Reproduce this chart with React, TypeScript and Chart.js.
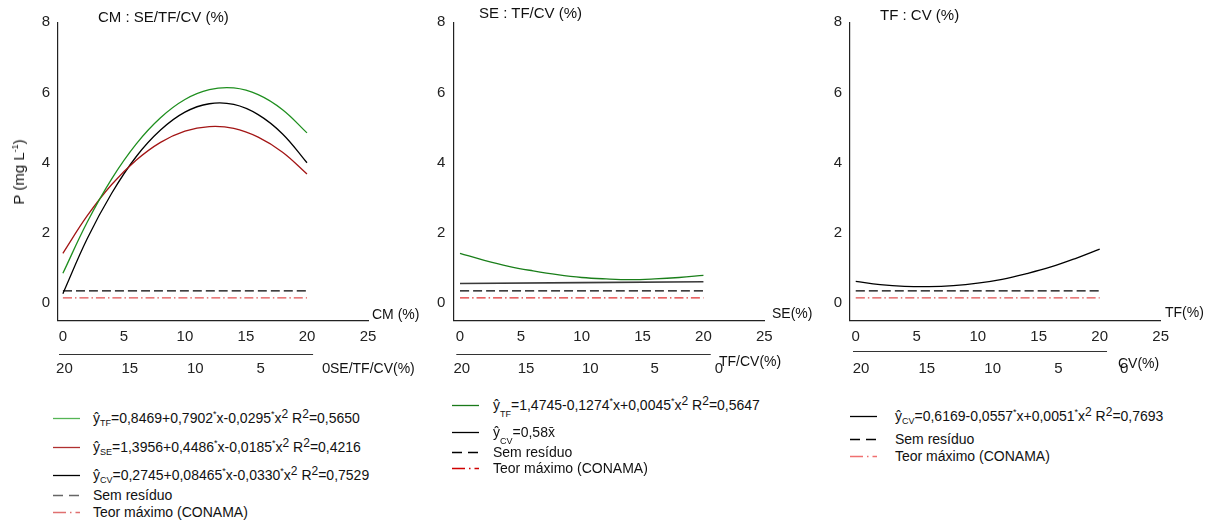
import React, { useEffect, useRef } from "react";
import { Chart, registerables } from "chart.js";
Chart.register(...registerables);

// ---------- DATA ----------
const xValues = [0, 2, 4, 6, 8, 10, 12, 14, 16, 18, 20];
const cmTF = [0.85, 2.31, 3.54, 4.53, 5.28, 5.8, 6.08, 6.13, 5.94, 5.51, 4.85];
const cmSE = [1.42, 2.49, 3.38, 4.07, 4.58, 4.9, 5.03, 4.98, 4.73, 4.3, 3.68];
const cmCV = [0.27, 1.84, 3.13, 4.17, 4.93, 5.44, 5.68, 5.66, 5.37, 4.82, 4.0];
const seTF = [1.42, 1.22, 1.05, 0.92, 0.81, 0.73, 0.69, 0.67, 0.69, 0.73, 0.79];
const seCVx = [0, 20];
const seCV = [0.56, 0.61];
const tfCV = [0.62, 0.53, 0.48, 0.47, 0.5, 0.57, 0.68, 0.84, 1.03, 1.27, 1.54];
const refX = [0, 20];
const semResiduo = [0.35, 0.35];
const conama = [0.15, 0.15];
const xTicks = [0, 5, 10, 15, 20, 25];
const yTicks = [0, 2, 4, 6, 8];
const secTicks = [20, 15, 10, 5, 0];

const FONT = "'Liberation Sans', Arial, Helvetica, sans-serif";
const DASH = [9, 4];
const DASHDOT = [9, 3, 1.5, 3];

type Series = { xs: number[]; ys: number[]; color: string; width: number; dash?: number[] };
type PanelCfg = {
  left: number;
  areaLeft: number;
  areaRight: number;
  xMin: number;
  x2Min: number;
  x2Max: number;
  secStart: number;
  secEnd: number;
  secDy: number;
  series: Series[];
};

const toPts = (xs: number[], ys: number[]) => xs.map((x, i) => ({ x, y: ys[i] }));

const secLinePlugin = {
  id: "secLine",
  afterDraw(chart: any, _args: any, opts: any) {
    const ctx = chart.ctx;
    const xs = chart.scales.x;
    const x2 = chart.scales.x2;
    ctx.save();
    ctx.strokeStyle = "#333";
    ctx.lineWidth = 1.1;
    ctx.beginPath();
    const y = Math.round(x2.top + opts.dy) + 0.5;
    ctx.moveTo(xs.left + opts.start, y);
    ctx.lineTo(xs.getPixelForValue(opts.end), y);
    ctx.stroke();
    ctx.restore();
  },
};

const CANVAS_W = 400;
const CANVAS_H = 390;
const AREA_TOP = 22.3;
const AREA_BOTTOM = 320.7;
const X_H = 28;
const X2_H = 30;
const Y_W = 50;

function Panel({ cfg }: { cfg: PanelCfg }) {
  const ref = useRef<HTMLCanvasElement | null>(null);
  useEffect(() => {
    if (!ref.current) return;
    const tickFont = { family: FONT, size: 15 };
    const chart = new Chart(ref.current, {
      type: "scatter",
      data: {
        datasets: cfg.series.map((s) => ({
          data: toPts(s.xs, s.ys),
          showLine: true,
          borderColor: s.color,
          borderWidth: s.width,
          borderDash: s.dash || [],
          pointRadius: 0,
          fill: false,
          tension: 0.4,
          xAxisID: "x",
          yAxisID: "y",
        })),
      },
      options: {
        animation: false,
        responsive: false,
        maintainAspectRatio: false,
        layout: {
          padding: {
            left: cfg.areaLeft - Y_W,
            right: CANVAS_W - cfg.areaRight,
            top: AREA_TOP,
            bottom: CANVAS_H - AREA_BOTTOM - X_H - X2_H,
          },
        },
        plugins: {
          legend: { display: false },
          tooltip: { enabled: false },
          secLine: { start: cfg.secStart, end: cfg.secEnd, dy: cfg.secDy },
        } as any,
        scales: {
          x: {
            type: "linear",
            position: "bottom",
            weight: 1,
            min: cfg.xMin,
            max: 25,
            grid: { display: false, drawTicks: false },
            border: { display: true, color: "#222", width: 1.2 },
            ticks: { padding: 7, font: tickFont, color: "#222", maxRotation: 0, autoSkip: false },
            afterBuildTicks: (s: any) => {
              s.ticks = xTicks.map((v) => ({ value: v }));
            },
            afterFit: (s: any) => {
              s.height = X_H;
            },
          },
          x2: {
            type: "linear",
            position: "bottom",
            weight: 2,
            reverse: true,
            min: cfg.x2Min,
            max: cfg.x2Max,
            grid: { display: false, drawTicks: false },
            border: { display: false },
            ticks: { padding: 11, font: tickFont, color: "#222", maxRotation: 0, autoSkip: false },
            afterBuildTicks: (s: any) => {
              s.ticks = secTicks.map((v) => ({ value: v }));
            },
            afterFit: (s: any) => {
              s.height = X2_H;
            },
          },
          y: {
            type: "linear",
            min: -0.5,
            max: 8,
            grid: { display: false, drawTicks: false },
            border: { display: true, color: "#222", width: 1.2 },
            ticks: { padding: 8, font: tickFont, color: "#222" },
            afterBuildTicks: (s: any) => {
              s.ticks = yTicks.map((v) => ({ value: v }));
            },
            afterFit: (s: any) => {
              s.width = Y_W;
            },
          },
        },
      } as any,
      plugins: [secLinePlugin],
    });
    return () => chart.destroy();
  }, [cfg]);
  return (
    <canvas
      ref={ref}
      width={CANVAS_W}
      height={CANVAS_H}
      style={{ position: "absolute", left: cfg.left, top: 0, width: CANVAS_W, height: CANVAS_H }}
    />
  );
}

const panels: PanelCfg[] = [
  {
    left: 0,
    areaLeft: 58,
    areaRight: 368,
    xMin: -0.4,
    x2Min: -3.2,
    x2Max: 20.49,
    secStart: 1,
    secEnd: 20.5,
    secDy: 5.3,
    series: [
      { xs: xValues, ys: cmTF, color: "#1f8f1f", width: 1.3 },
      { xs: xValues, ys: cmSE, color: "#a31515", width: 1.3 },
      { xs: xValues, ys: cmCV, color: "#000000", width: 1.3 },
      { xs: refX, ys: semResiduo, color: "#000000", width: 1.2, dash: DASH },
      { xs: refX, ys: conama, color: "#e05050", width: 1.2, dash: DASHDOT },
    ],
  },
  {
    left: 400,
    areaLeft: 53.3,
    areaRight: 364.3,
    xMin: -0.55,
    x2Min: -3.54,
    x2Max: 20.66,
    secStart: 3,
    secEnd: 20.6,
    secDy: 5.3,
    series: [
      { xs: xValues, ys: seTF, color: "#1a7f1a", width: 1.3 },
      { xs: seCVx, ys: seCV, color: "#3a3a3a", width: 1.7 },
      { xs: refX, ys: semResiduo, color: "#000000", width: 1.2, dash: DASH },
      { xs: refX, ys: conama, color: "#e03030", width: 1.2, dash: DASHDOT },
    ],
  },
  {
    left: 800,
    areaLeft: 50,
    areaRight: 360.7,
    xMin: -0.47,
    x2Min: -2.77,
    x2Max: 20.84,
    secStart: 3,
    secEnd: 20.6,
    secDy: 2.6,
    series: [
      { xs: xValues, ys: tfCV, color: "#000000", width: 1.3 },
      { xs: refX, ys: semResiduo, color: "#000000", width: 1.2, dash: DASH },
      { xs: refX, ys: conama, color: "#e05050", width: 1.2, dash: DASHDOT },
    ],
  },
];

const txt: React.CSSProperties = {
  position: "absolute",
  whiteSpace: "nowrap",
  fontFamily: FONT,
  color: "#111",
  lineHeight: "18px",
};

function Label({ x, y, size = 14, children }: { x: number; y: number; size?: number; children: React.ReactNode }) {
  return <div style={{ ...txt, left: x, top: y - 9, fontSize: size }}>{children}</div>;
}

function LegendRow({
  x,
  textX,
  y,
  color,
  dash,
  children,
}: {
  x: number;
  textX: number;
  y: number;
  color: string;
  dash?: number[];
  children: React.ReactNode;
}) {
  return (
    <>
      <svg style={{ position: "absolute", left: x, top: y - 5 }} width={28} height={10}>
        <line x1={0} y1={5.5} x2={27} y2={5.5} stroke={color} strokeWidth={1.3} strokeDasharray={dash ? dash.join(",") : undefined} />
      </svg>
      <div style={{ ...txt, left: textX, top: y - 9, fontSize: 14 }}>{children}</div>
    </>
  );
}

const sub = (s: string) => <sub style={{ fontSize: 9, verticalAlign: "-3px", lineHeight: 0 }}>{s}</sub>;
const sub2 = (s: string) => <sub style={{ fontSize: 9, verticalAlign: "-7px", lineHeight: 0 }}>{s}</sub>;
const star = <sup style={{ fontSize: 9, verticalAlign: "6px", lineHeight: 0 }}>*</sup>;
const sq = <sup style={{ fontSize: 12, verticalAlign: "5px", lineHeight: 0 }}>2</sup>;
const LDASHDOT = [13, 4, 1.5, 4];

export default function App() {
  return (
    <div
      style={{
        position: "fixed",
        left: 0,
        top: 0,
        width: 1214,
        height: 525,
        background: "#fff",
        overflow: "hidden",
      }}
    >
      {panels.map((p, i) => (
        <Panel key={i} cfg={p} />
      ))}

      {/* titles */}
      <Label x={98} y={17} size={15}>CM : SE/TF/CV (%)</Label>
      <Label x={479} y={13} size={15}>SE : TF/CV (%)</Label>
      <Label x={880} y={15} size={15}>TF : CV (%)</Label>

      {/* y title */}
      <div
        style={{
          ...txt,
          left: 19,
          top: 172,
          fontSize: 15,
          transform: "translate(-50%, -50%) rotate(-90deg)",
        }}
      >
        P (mg L<sup style={{ fontSize: 9, verticalAlign: "6px", lineHeight: 0 }}>-1</sup>)
      </div>

      {/* x titles */}
      <Label x={372} y={314}>CM (%)</Label>
      <Label x={772} y={313}>SE(%)</Label>
      <Label x={1165} y={312}>TF(%)</Label>

      {/* secondary axis titles */}
      <Label x={330} y={368}>SE/TF/CV(%)</Label>
      <Label x={719} y={361}>TF/CV(%)</Label>
      <Label x={1118} y={363}>CV(%)</Label>

      {/* legend panel 1 */}
      <LegendRow x={53} textX={93} y={418} color="#55b555">
        ŷ{sub("TF")}=0,8469+0,7902{star}x-0,0295{star}x{sq} R{sq}=0,5650
      </LegendRow>
      <LegendRow x={53} textX={93} y={447} color="#b03030">
        ŷ{sub("SE")}=1,3956+0,4486{star}x-0,0185{star}x{sq} R{sq}=0,4216
      </LegendRow>
      <LegendRow x={53} textX={93} y={475} color="#000">
        ŷ{sub("CV")}=0,2745+0,08465{star}x-0,0330{star}x{sq} R{sq}=0,7529
      </LegendRow>
      <LegendRow x={53} textX={93} y={495} color="#666" dash={[10, 6]}>
        Sem resíduo
      </LegendRow>
      <LegendRow x={53} textX={93} y={512} color="#e07070" dash={LDASHDOT}>
        Teor máximo (CONAMA)
      </LegendRow>

      {/* legend panel 2 */}
      <LegendRow x={452} textX={493} y={405} color="#1a7a1a">
        ŷ{sub2("TF")}=1,4745-0,1274{star}x+0,0045{star}x{sq} R{sq}=0,5647
      </LegendRow>
      <LegendRow x={452} textX={493} y={432} color="#000">
        ŷ{sub2("CV")}=0,58x̄
      </LegendRow>
      <LegendRow x={452} textX={493} y={452} color="#000" dash={[10, 6]}>
        Sem resíduo
      </LegendRow>
      <LegendRow x={452} textX={493} y={468} color="#d00000" dash={LDASHDOT}>
        Teor máximo (CONAMA)
      </LegendRow>

      {/* legend panel 3 */}
      <LegendRow x={850} textX={895} y={416} color="#000">
        ŷ{sub("CV")}=0,6169-0,0557{star}x+0,0051{star}x{sq} R{sq}=0,7693
      </LegendRow>
      <LegendRow x={850} textX={895} y={439} color="#000" dash={[10, 6]}>
        Sem resíduo
      </LegendRow>
      <LegendRow x={850} textX={895} y={456} color="#f07070" dash={LDASHDOT}>
        Teor máximo (CONAMA)
      </LegendRow>
    </div>
  );
}
